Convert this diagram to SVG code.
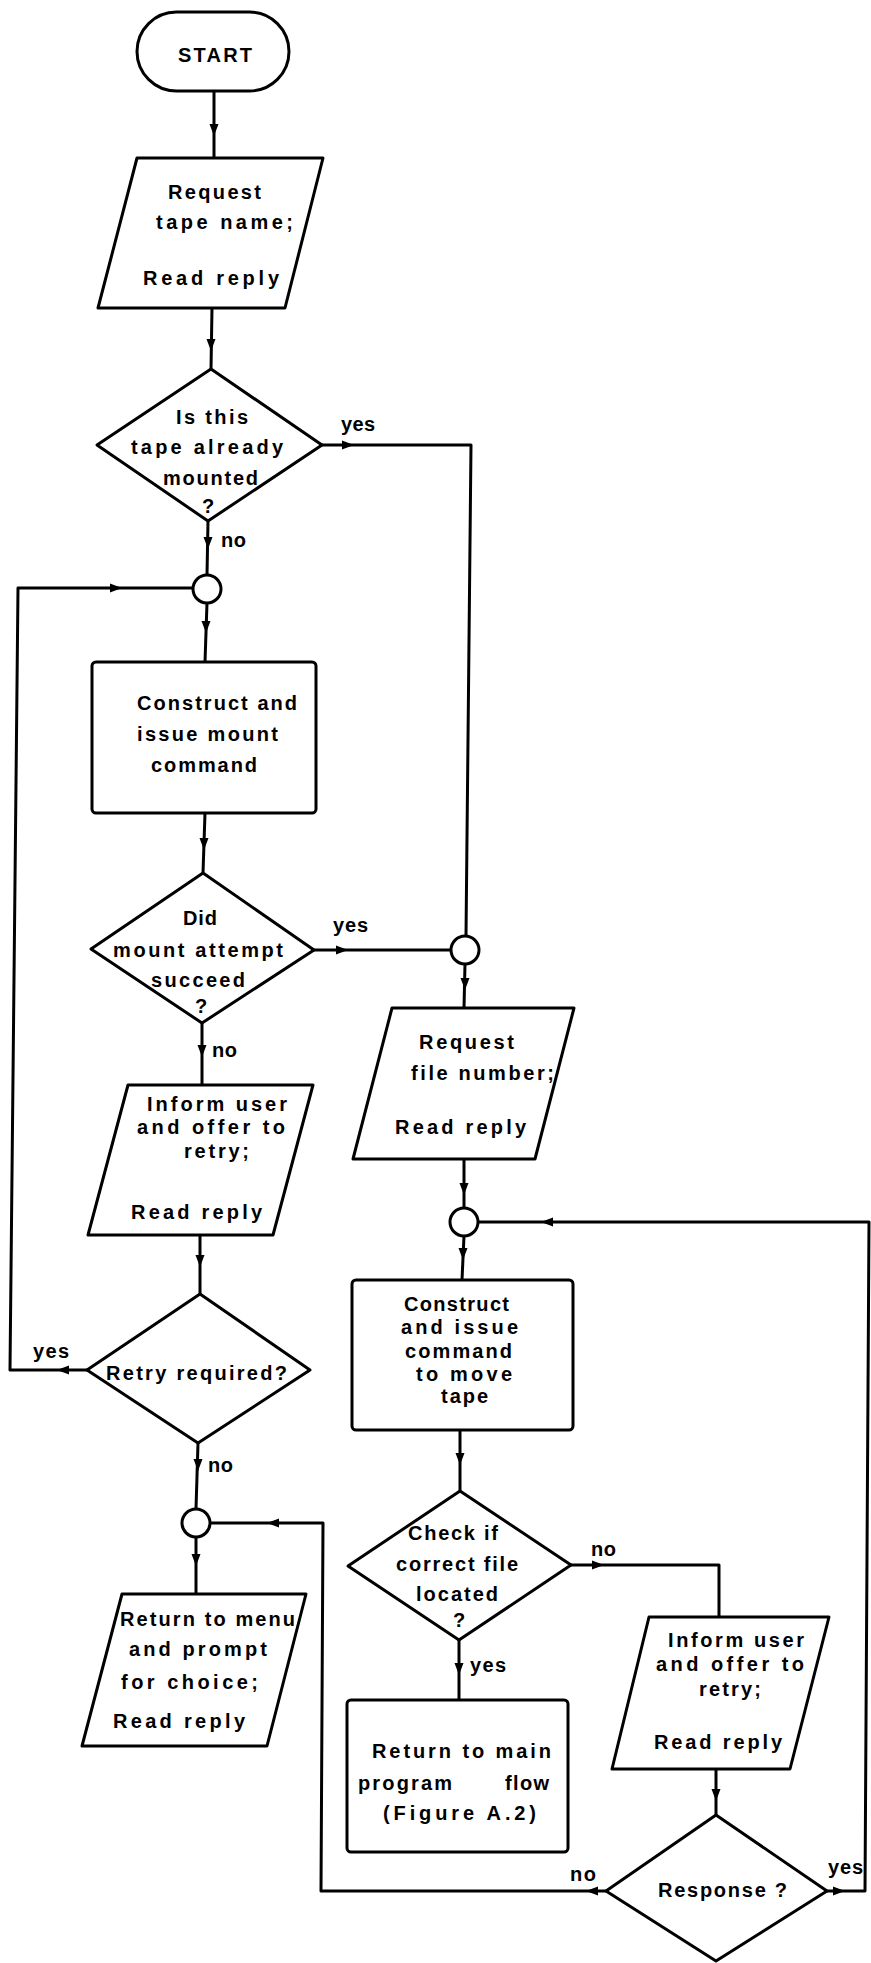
<svg xmlns="http://www.w3.org/2000/svg" xmlns:xlink="http://www.w3.org/1999/xlink" width="871" height="1963" viewBox="0 0 871 1963">
<style>
.s{fill:#fff;stroke:#000;stroke-width:3;stroke-linejoin:round}
.c{fill:none;stroke:#000;stroke-width:3;stroke-linejoin:round}
text{font-family:"Liberation Sans",Arial,sans-serif;font-weight:bold;font-size:20px;fill:#000}
.m{text-anchor:middle}
</style>
<defs>
<path id="ah" d="M0,0 L-12,-4.5 L-12,4.5 Z" fill="#000"/>
</defs>
<rect width="871" height="1963" fill="#fff"/>

<g id="connectors">
<path class="c" d="M214,91 V157"/>
<path class="c" d="M212,308 L211,369"/>
<path class="c" d="M322,445 H471 L466,936"/>
<path class="c" d="M208,521 L207,575"/>
<path class="c" d="M207,603 L205,662"/>
<path class="c" d="M205,813 L203,873"/>
<path class="c" d="M314,950 H451"/>
<path class="c" d="M202,1023 V1085"/>
<path class="c" d="M200,1235 V1294"/>
<path class="c" d="M87,1370 H10 L18,588 H193"/>
<path class="c" d="M198,1443 L196,1509"/>
<path class="c" d="M196,1537 V1594"/>
<path class="c" d="M465,964 L464,1008"/>
<path class="c" d="M464,1159 V1208"/>
<path class="c" d="M464,1236 L462,1280"/>
<path class="c" d="M460,1430 V1491"/>
<path class="c" d="M459,1640 V1700"/>
<path class="c" d="M571,1565 H719 V1617"/>
<path class="c" d="M716,1769 V1815"/>
<path class="c" d="M827,1891 H865 L869,1222 H478"/>
<path class="c" d="M606,1891 H321 L323,1523 H210"/>
<use xlink:href="#ah" transform="translate(214,136) rotate(90)"/>
<use xlink:href="#ah" transform="translate(211,351) rotate(90)"/>
<use xlink:href="#ah" transform="translate(354,445)"/>
<use xlink:href="#ah" transform="translate(208,549) rotate(90)"/>
<use xlink:href="#ah" transform="translate(206,633) rotate(90)"/>
<use xlink:href="#ah" transform="translate(204,850) rotate(90)"/>
<use xlink:href="#ah" transform="translate(348,950)"/>
<use xlink:href="#ah" transform="translate(202,1057) rotate(90)"/>
<use xlink:href="#ah" transform="translate(200,1267) rotate(90)"/>
<use xlink:href="#ah" transform="translate(57,1370) rotate(180)"/>
<use xlink:href="#ah" transform="translate(122,588)"/>
<use xlink:href="#ah" transform="translate(198,1471) rotate(90)"/>
<use xlink:href="#ah" transform="translate(196,1566) rotate(90)"/>
<use xlink:href="#ah" transform="translate(465,990) rotate(90)"/>
<use xlink:href="#ah" transform="translate(464,1195) rotate(90)"/>
<use xlink:href="#ah" transform="translate(463,1260) rotate(90)"/>
<use xlink:href="#ah" transform="translate(460,1465) rotate(90)"/>
<use xlink:href="#ah" transform="translate(459,1675) rotate(90)"/>
<use xlink:href="#ah" transform="translate(604,1565)"/>
<use xlink:href="#ah" transform="translate(716,1801) rotate(90)"/>
<use xlink:href="#ah" transform="translate(845,1891)"/>
<use xlink:href="#ah" transform="translate(541,1222) rotate(180)"/>
<use xlink:href="#ah" transform="translate(586,1891) rotate(180)"/>
<use xlink:href="#ah" transform="translate(267,1523) rotate(180)"/>
<text x="341" y="431" textLength="34" lengthAdjust="spacing">yes</text>
<text x="221" y="547" textLength="25" lengthAdjust="spacing">no</text>
<text x="333" y="932" textLength="35" lengthAdjust="spacing">yes</text>
<text x="212" y="1057" textLength="25" lengthAdjust="spacing">no</text>
<text x="33" y="1358" textLength="36" lengthAdjust="spacing">yes</text>
<text x="208" y="1472" textLength="25" lengthAdjust="spacing">no</text>
<text x="591" y="1556" textLength="25" lengthAdjust="spacing">no</text>
<text x="470" y="1672" textLength="36" lengthAdjust="spacing">yes</text>
<text x="828" y="1874" textLength="35" lengthAdjust="spacing">yes</text>
<text x="570" y="1881" textLength="26" lengthAdjust="spacing">no</text>
</g>

<g id="start">
<rect class="s" x="137" y="12" width="152" height="79" rx="39.5"/>
<text x="178" y="62" textLength="74" lengthAdjust="spacing">START</text>
</g>

<g id="request-tape">
<polygon class="s" points="137,158 323,158 285,308 98,308"/>
<text x="168" y="199" textLength="93" lengthAdjust="spacing">Request</text>
<text x="156" y="229" textLength="137" lengthAdjust="spacing">tape name;</text>
<text x="143" y="285" textLength="136" lengthAdjust="spacing">Read reply</text>
</g>

<g id="already-mounted">
<polygon class="s" points="211,369 322,445 208,521 97,445"/>
<text x="176" y="424" textLength="72" lengthAdjust="spacing">Is this</text>
<text x="131" y="454" textLength="152" lengthAdjust="spacing">tape already</text>
<text x="163" y="485" textLength="95" lengthAdjust="spacing">mounted</text>
<text class="m" x="208" y="513">?</text>
</g>

<g id="join1"><circle class="s" cx="207" cy="589" r="14"/></g>

<g id="mount-command">
<rect class="s" x="92" y="662" width="224" height="151" rx="4"/>
<text x="137" y="710" textLength="160" lengthAdjust="spacing">Construct and</text>
<text x="137" y="741" textLength="141" lengthAdjust="spacing">issue mount</text>
<text x="151" y="772" textLength="106" lengthAdjust="spacing">command</text>
</g>

<g id="mount-succeed">
<polygon class="s" points="203,873 314,950 202,1023 91,949"/>
<text x="183" y="925" textLength="34" lengthAdjust="spacing">Did</text>
<text x="113" y="957" textLength="170" lengthAdjust="spacing">mount attempt</text>
<text x="151" y="987" textLength="94" lengthAdjust="spacing">succeed</text>
<text class="m" x="201" y="1013">?</text>
</g>

<g id="inform-retry1">
<polygon class="s" points="128,1085 313,1085 273,1235 88,1235"/>
<text x="147" y="1111" textLength="140" lengthAdjust="spacing">Inform user</text>
<text x="137" y="1134" textLength="148" lengthAdjust="spacing">and offer to</text>
<text x="184" y="1158" textLength="65" lengthAdjust="spacing">retry;</text>
<text x="131" y="1219" textLength="131" lengthAdjust="spacing">Read reply</text>
</g>

<g id="retry-required">
<polygon class="s" points="200,1294 310,1370 198,1443 87,1370"/>
<text x="106" y="1380" textLength="181" lengthAdjust="spacing">Retry required?</text>
</g>

<g id="join3"><circle class="s" cx="196" cy="1523" r="14"/></g>

<g id="return-menu">
<polygon class="s" points="122,1594 306,1594 267,1746 82,1746"/>
<text x="120" y="1626" textLength="175" lengthAdjust="spacing">Return to menu</text>
<text x="129" y="1656" textLength="138" lengthAdjust="spacing">and prompt</text>
<text x="121" y="1689" textLength="137" lengthAdjust="spacing">for choice;</text>
<text x="113" y="1728" textLength="132" lengthAdjust="spacing">Read reply</text>
</g>

<g id="join2"><circle class="s" cx="465" cy="950" r="14"/></g>

<g id="request-file">
<polygon class="s" points="392,1008 574,1008 535,1159 353,1159"/>
<text x="419" y="1049" textLength="95" lengthAdjust="spacing">Request</text>
<text x="411" y="1080" textLength="143" lengthAdjust="spacing">file number;</text>
<text x="395" y="1134" textLength="131" lengthAdjust="spacing">Read reply</text>
</g>

<g id="join4"><circle class="s" cx="464" cy="1222" r="14"/></g>

<g id="move-tape">
<rect class="s" x="352" y="1280" width="221" height="150" rx="4"/>
<text x="404" y="1311" textLength="105" lengthAdjust="spacing">Construct</text>
<text x="401" y="1334" textLength="117" lengthAdjust="spacing">and issue</text>
<text x="405" y="1358" textLength="107" lengthAdjust="spacing">command</text>
<text x="416" y="1381" textLength="96" lengthAdjust="spacing">to move</text>
<text x="441" y="1403" textLength="47" lengthAdjust="spacing">tape</text>
</g>

<g id="check-file">
<polygon class="s" points="460,1491 571,1565 459,1640 348,1566"/>
<text x="408" y="1540" textLength="90" lengthAdjust="spacing">Check if</text>
<text x="396" y="1571" textLength="122" lengthAdjust="spacing">correct file</text>
<text x="416" y="1601" textLength="82" lengthAdjust="spacing">located</text>
<text class="m" x="459" y="1627">?</text>
</g>

<g id="return-main">
<rect class="s" x="347" y="1700" width="221" height="152" rx="4"/>
<text x="372" y="1758" textLength="179" lengthAdjust="spacing">Return to main</text>
<text y="1790"><tspan x="358" textLength="94" lengthAdjust="spacing">program</tspan><tspan x="505" textLength="44" lengthAdjust="spacing">flow</tspan></text>
<text x="383" y="1820" textLength="153" lengthAdjust="spacing">(Figure A.2)</text>
</g>

<g id="inform-retry2">
<polygon class="s" points="649,1617 829,1617 790,1769 612,1769"/>
<text x="668" y="1647" textLength="136" lengthAdjust="spacing">Inform user</text>
<text x="656" y="1671" textLength="148" lengthAdjust="spacing">and offer to</text>
<text x="699" y="1696" textLength="62" lengthAdjust="spacing">retry;</text>
<text x="654" y="1749" textLength="128" lengthAdjust="spacing">Read reply</text>
</g>

<g id="response">
<polygon class="s" points="716,1815 827,1891 716,1961 606,1891"/>
<text x="658" y="1897" textLength="129" lengthAdjust="spacing">Response ?</text>
</g>
</svg>
